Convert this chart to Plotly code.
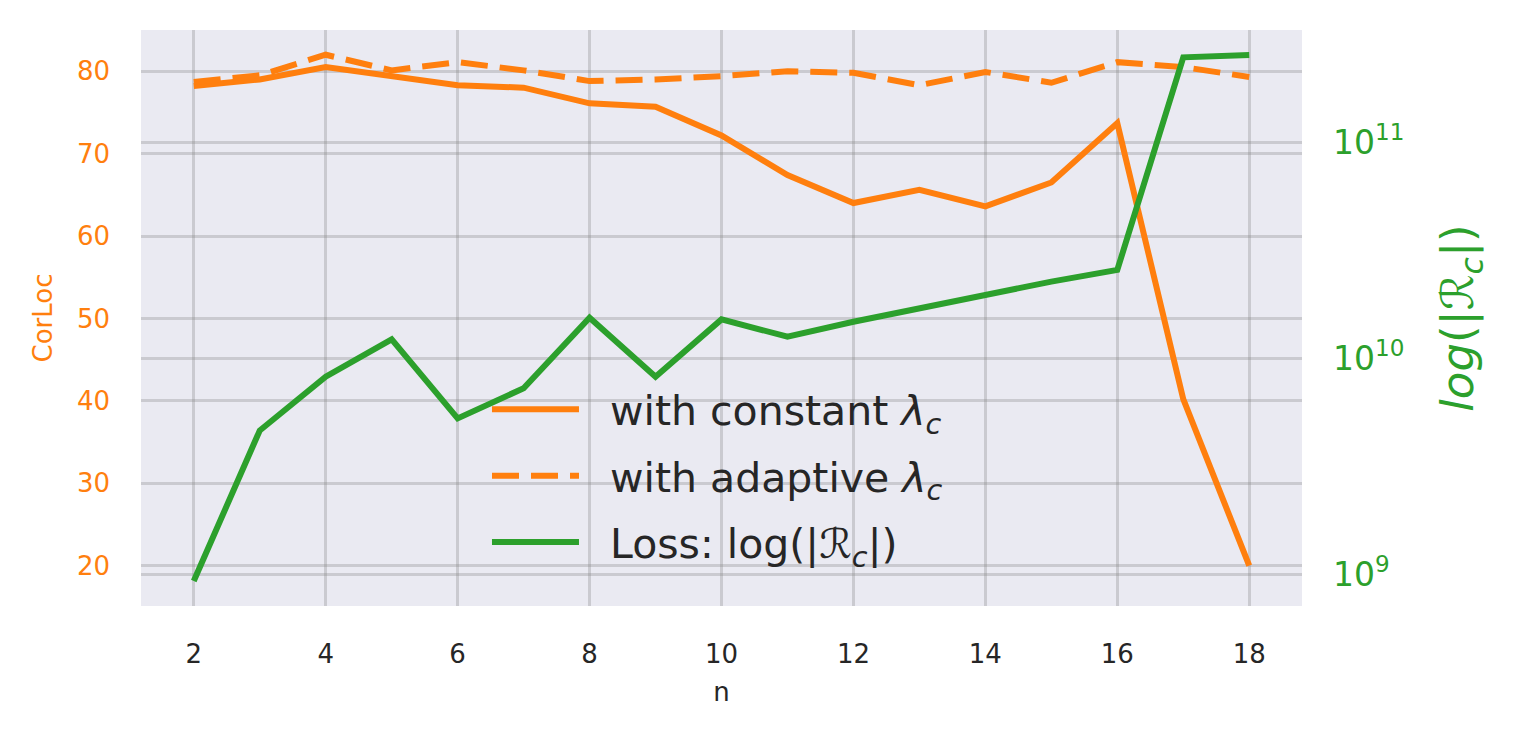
import plotly.graph_objects as go

# values
n = list(range(2, 19))
corloc_constant = [78.2, 79.0, 80.5, 79.4, 78.3, 78.0, 76.1, 75.7, 72.2,
                   67.4, 64.0, 65.6, 63.6, 66.5, 73.7, 40.2, 20.0]
corloc_adaptive = [78.7, 79.5, 82.0, 80.1, 81.1, 80.1, 78.8, 79.0, 79.4,
                   80.0, 79.8, 78.3, 79.9, 78.6, 81.1, 80.5, 79.3]
loss = [9.33e8, 4.64e9, 8.24e9, 1.227e10, 5.28e9, 7.28e9, 1.545e10, 8.24e9,
        1.517e10, 1.262e10, 1.479e10, 1.706e10, 1.967e10, 2.27e10, 2.57e10,
        2.48e11, 2.54e11]
x_ticks = [2, 4, 6, 8, 10, 12, 14, 16, 18]
left_ticks = [20, 30, 40, 50, 60, 70, 80]
right_ticks = [1e9, 1e10, 1e11]
right_labels = ["10<sup>9</sup>", "10<sup>10</sup>", "10<sup>11</sup>"]

orange = "#ff7f0e"
green = "#2ca02c"
grid = "rgba(128,128,128,0.3)"
font = "DejaVu Sans"
pad = "\u00a0\u00a0"  # gap between legend line and text

fig = go.Figure()
fig.add_trace(go.Scatter(x=n, y=corloc_constant, mode="lines",
                         name=pad + "with constant <i>λ</i><sub><i>c</i></sub>",
                         legendgroup="a",
                         line=dict(color=orange, width=6)))
fig.add_trace(go.Scatter(x=n, y=corloc_adaptive, mode="lines",
                         name=pad + "with adaptive <i>λ</i><sub><i>c</i></sub>",
                         legendgroup="b",
                         line=dict(color=orange, width=6, dash="27px,12px")))
fig.add_trace(go.Scatter(x=n, y=loss, mode="lines", yaxis="y2",
                         name=pad + "Loss: log(|ℛ<sub><i>c</i></sub>|)",
                         legendgroup="c",
                         line=dict(color=green, width=6)))

fig.update_layout(
    width=1519, height=739,
    margin=dict(l=133, r=225, t=22, b=141),
    paper_bgcolor="white",
    plot_bgcolor="#EAEAF2",
    font=dict(family=font, color="#262626"),
    xaxis=dict(range=[1.2, 18.8], tickvals=x_ticks, showgrid=True,
               gridcolor=grid, gridwidth=2.5, zeroline=False, showline=False,
               ticklabelstandoff=30, tickfont=dict(size=26, color="#262626"),
               title=dict(text="n", font=dict(size=26, color="#262626"),
                          standoff=14)),
    yaxis=dict(range=[15.1, 85.0], tickvals=left_ticks, showgrid=True,
               gridcolor=grid, gridwidth=2.5, zeroline=False, showline=False,
               ticklabelstandoff=30, tickfont=dict(size=26, color=orange),
               title=dict(text="CorLoc", font=dict(size=26, color=orange),
                          standoff=16)),
    yaxis2=dict(type="log", range=[8.854, 11.521], overlaying="y",
                side="right", tickvals=right_ticks, ticktext=right_labels,
                showgrid=True, gridcolor=grid, gridwidth=2.5, zeroline=False,
                showline=False, ticklabelstandoff=30,
                tickfont=dict(size=33, color=green),
                title=dict(text="<i>log</i>(|ℛ<sub><i>c</i></sub>|)",
                           font=dict(size=45, color=green), standoff=38)),
    legend=dict(x=0.298, y=0.399, xanchor="left", yanchor="top",
                bgcolor="rgba(0,0,0,0)", font=dict(size=41, color="#262626"),
                itemwidth=87, tracegroupgap=10, traceorder="grouped"),
)

fig.write_html("out.html")
